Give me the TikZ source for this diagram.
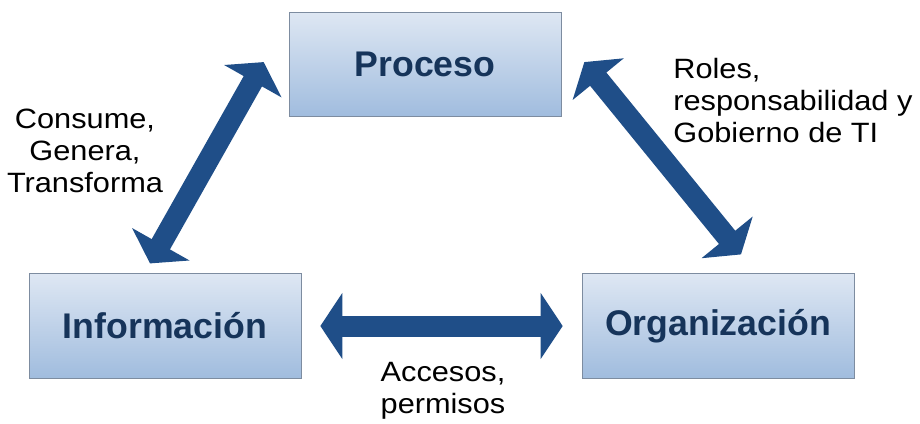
\documentclass[tikz,border=0pt]{standalone}
\usepackage{fontspec}
\setmainfont{Liberation Sans}
\newfontfamily\etiqfont{Liberation Sans}[FakeStretch=1.1]
\usetikzlibrary{arrows.meta}
\definecolor{azulflecha}{RGB}{31,78,136}
\definecolor{azultexto}{RGB}{22,52,90}
\definecolor{cajaarriba}{RGB}{222,231,243}
\definecolor{cajaabajo}{RGB}{160,188,222}
\definecolor{borde}{RGB}{125,140,160}
\begin{document}
\begin{tikzpicture}[x=0.02cm,y=-0.02cm]
    \tikzstyle{caja}=[draw=borde, top color=cajaarriba, bottom color=cajaabajo, minimum width=5.44cm, minimum height=2.09cm, text=azultexto, font=\fontsize{20.3}{24}\selectfont\bfseries]
    \tikzstyle{etiqueta}=[inner sep=0pt, align=center, font=\etiqfont\fontsize{15.9}{18}\selectfont]
    \tikzstyle{flecha}=[line width=0.42cm, draw=azulflecha, {Triangle[length=0.44cm,width=1.3cm]}-{Triangle[length=0.44cm,width=1.3cm]}]
    \useasboundingbox (0,0) rectangle (920,423);
    \node[caja] (proceso) at (425,64.5) {Proceso};
    \node[caja] (informacion) at (165,326) {Información};
    \node[caja] (organizacion) at (718,326) {Organización};
    % flechas entre cajas
    \draw[flecha] ([shift={(-15,-10)}]informacion.north) -- ([shift={(-25,-55)}]proceso.south west);
    \draw[flecha] ([shift={(23,-55)}]proceso.south east) -- ([shift={(23,-19)}]organizacion.north);
    \draw[flecha, shorten <=0.38cm, shorten >=0.38cm] (informacion.east) -- (organizacion.west);
    % textos (base = ultima linea)
    \node[etiqueta, anchor=base] (consume) at (85,192) {Consume,\\Genera,\\Transforma};
    \node[etiqueta, anchor=base west, align=left] (roles) at (673,142) {Roles,\\responsabilidad y\\Gobierno de TI};
    \node[etiqueta, anchor=base] (accesos) at (443,413) {Accesos,\\permisos};
\end{tikzpicture}
\end{document}
